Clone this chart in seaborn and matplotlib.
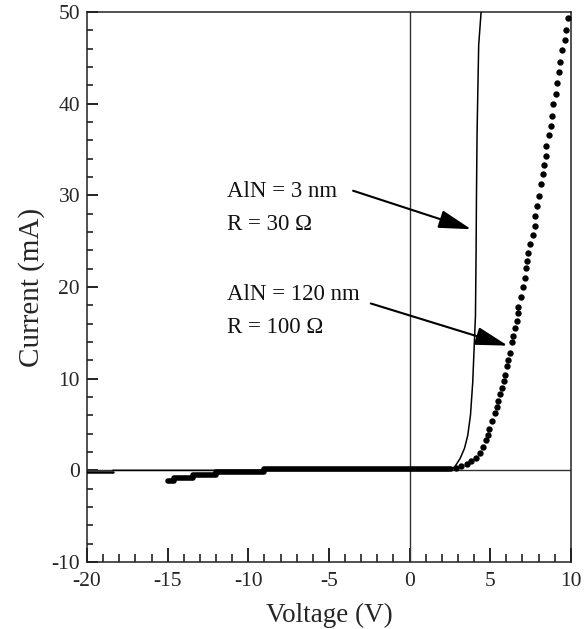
import numpy as np
import pandas as pd
import matplotlib
matplotlib.use("Agg")
import matplotlib.pyplot as plt
import seaborn as sns

# ---- data ----
# AlN = 3 nm (solid line)
v_3nm = [-20.0, -18.4, -18.4, 2.4, 2.68, 2.85, 3.14, 3.41, 3.61, 3.78, 3.92, 4.09, 4.13, 4.15, 4.19, 4.29, 4.44]
i_3nm = [-0.2, -0.2, 0.0, 0.0, 0.2, 0.5, 1.3, 2.4, 3.8, 6.0, 9.6, 16.9, 24.1, 29.5, 36.9, 46.4, 50.0]

# AlN = 120 nm : low-current (leakage) part, dense measured points seen as a thick stepped band
v_120_low = [-15.0, -14.6, -13.4, -12.0, -9.0, 2.6]
i_120_low = [-1.2, -0.8, -0.5, -0.2, 0.2, 0.2]

# AlN = 120 nm : individual measured dots above turn-on
v_120 = [2.89, 3.20, 3.55, 3.84, 4.13, 4.35, 4.56, 4.75, 4.87, 4.95, 5.12, 5.28, 5.41, 5.49,
         5.62, 5.74, 5.88, 5.94, 6.05, 6.11, 6.23, 6.36, 6.44, 6.56, 6.67, 6.73, 6.73, 6.91,
         7.06, 7.18, 7.22, 7.26, 7.35, 7.49, 7.63, 7.76, 7.78, 7.88, 8.01, 8.13, 8.26, 8.32,
         8.44, 8.48, 8.63, 8.77, 8.83, 8.92, 9.06, 9.12, 9.25, 9.31, 9.45, 9.62, 9.70, 9.80]
i_120 = [0.3, 0.5, 0.7, 1.0, 1.4, 1.9, 2.5, 3.3, 3.9, 4.5, 5.4, 6.2, 6.9, 7.6,
         8.3, 9.0, 9.7, 10.4, 11.4, 12.0, 12.8, 14.0, 14.7, 15.5, 16.3, 17.2, 17.8, 18.9,
         20.0, 21.0, 22.1, 22.8, 23.7, 24.7, 25.7, 26.7, 27.7, 28.8, 29.9, 31.2, 32.3, 33.3,
         34.3, 35.4, 36.6, 37.6, 38.7, 40.0, 41.1, 42.2, 43.5, 44.5, 45.9, 46.9, 48.0, 49.3]

x_ticks = [-20, -15, -10, -5, 0, 5, 10]
y_ticks = [-10, 0, 10, 20, 30, 40, 50]

labels = [("AlN = 3 nm", "R = 30 Ω"), ("AlN = 120 nm", "R = 100 Ω")]

# ---- styling ----
sns.set_style("ticks")
plt.rcParams["font.family"] = ["Liberation Serif", "DejaVu Serif"]
plt.rcParams["axes.unicode_minus"] = False

fig = plt.figure(figsize=(5.86, 6.29), dpi=100)
ax = fig.add_axes([0.1485, 0.1065, 0.8255, 0.8745])

ax.axhline(0, color="#333333", lw=1.0, zorder=1)
ax.axvline(0, color="#333333", lw=1.0, zorder=1)

df3 = pd.DataFrame({"V": v_3nm[:2], "I": i_3nm[:2]})
sns.lineplot(data=df3, x="V", y="I", sort=False, estimator=None, color="black", lw=1.8, ax=ax, zorder=3)
df3b = pd.DataFrame({"V": v_3nm[2:], "I": i_3nm[2:]})
sns.lineplot(data=df3b, x="V", y="I", sort=False, estimator=None, color="black", lw=1.1, ax=ax, zorder=3)

dflow = pd.DataFrame({"V": v_120_low, "I": i_120_low})
sns.lineplot(data=dflow, x="V", y="I", sort=False, estimator=None, color="black", lw=4.0,
             drawstyle="steps-post", solid_capstyle="round", ax=ax, zorder=3)

df120 = pd.DataFrame({"V": v_120, "I": i_120})
sns.scatterplot(data=df120, x="V", y="I", color="black", s=21, linewidth=0, ax=ax, zorder=4)

ax.set_xlim(-20, 10)
ax.set_ylim(-10, 50)
ax.set_xticks(x_ticks)
ax.set_xticklabels([str(t) for t in x_ticks])
ax.set_yticks(y_ticks)
ax.set_yticklabels([str(t) for t in y_ticks])
ax.set_xticks(np.arange(-20, 11, 1), minor=True)
ax.set_yticks(np.arange(-10, 51, 2), minor=True)

ax.tick_params(axis="x", which="major", direction="in", length=10, width=1.4, labelsize=15.5, pad=7,
               top=False, color="#222222")
ax.tick_params(axis="x", which="minor", direction="in", length=5.5, width=1.2, top=False, color="#222222")
ax.tick_params(axis="y", which="major", direction="in", length=8, width=1.4, labelsize=15.5, pad=5,
               right=False, color="#222222")
ax.tick_params(axis="y", which="minor", direction="in", length=4.5, width=1.2, right=False, color="#222222")

for s in ax.spines.values():
    s.set_visible(True)
    s.set_linewidth(1.1)
    s.set_color("#222222")

ax.set_xlabel("Voltage (V)", fontsize=19.5, labelpad=9)
ax.set_ylabel("Current (mA)", fontsize=21, labelpad=5)

txt_kw = dict(fontsize=16.5, ha="left", va="center", color="#111111")
ax.text(-11.35, 30.4, labels[0][0], **txt_kw)
ax.text(-11.35, 26.8, labels[0][1], **txt_kw)
ax.text(-11.35, 19.2, labels[1][0], **txt_kw)
ax.text(-11.35, 15.6, labels[1][1], **txt_kw)

arrow = dict(arrowstyle="-|>,head_length=1.0,head_width=0.28", color="black", lw=1.5,
             mutation_scale=20, shrinkA=0, shrinkB=0)
ax.annotate("", xy=(3.82, 26.3), xytext=(-3.5, 30.5), arrowprops=arrow)
ax.annotate("", xy=(6.09, 13.6), xytext=(-2.4, 18.2), arrowprops=arrow)

fig.savefig("out.png", dpi=100)
